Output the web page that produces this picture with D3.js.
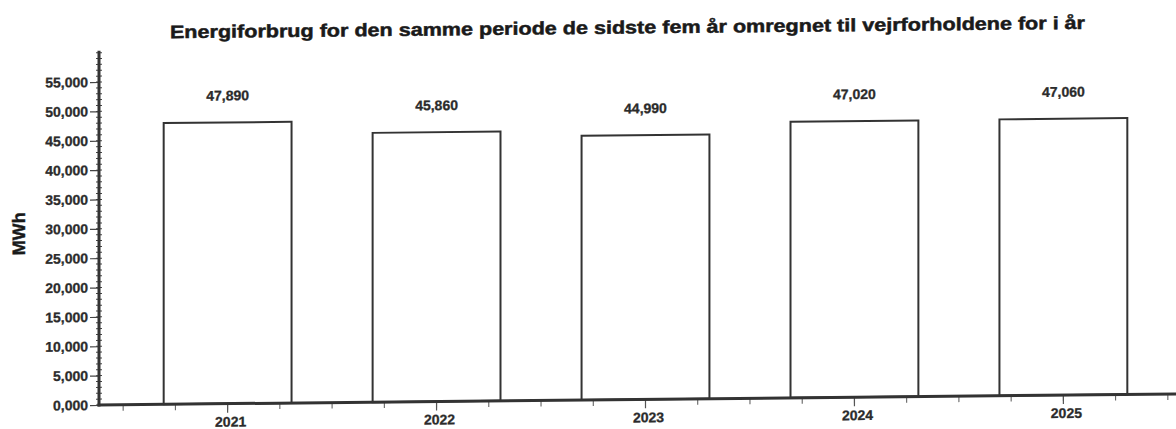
<!DOCTYPE html>
<html>
<head>
<meta charset="utf-8">
<script src="https://cdn.jsdelivr.net/npm/d3@7"></script>
<style>
  html, body { margin: 0; padding: 0; background: #fff; }
  svg { display: block; font-family: "Liberation Sans", Arial, sans-serif; }
</style>
</head>
<body>
<svg id="chart" width="1176" height="429"></svg>
<script>
// ---- data ----
const title = "Energiforbrug for den samme periode de sidste fem år omregnet til vejrforholdene for i år";
const yLabel = "MWh";
const years = ["2021", "2022", "2023", "2024", "2025"];
const values = [47890, 45860, 44990, 47020, 47060];
const valueLabels = ["47,890", "45,860", "44,990", "47,020", "47,060"];
const yTickValues = [0, 5000, 10000, 15000, 20000, 25000, 30000, 35000, 40000, 45000, 50000, 55000];
const yTickLabels = ["0,000", "5,000", "10,000", "15,000", "20,000", "25,000", "30,000", "35,000", "40,000", "45,000", "50,000", "55,000"];

// ---- layout ----
const svg = d3.select("#chart");
const g = svg.append("g").attr("transform", "skewY(-0.59)");

const axisX = 99, baseY = 406;
const y = d3.scaleLinear().domain([0, 60000]).range([baseY, baseY - 12 * 29.36]);
const x = d3.scaleBand().domain(years).range([101, 1190]).paddingInner(0.388).paddingOuter(0.3);
const step = x.step();

const ink = "#2b2b2b";

// title
g.append("text")
  .attr("x", 170).attr("y", 40)
  .attr("textLength", 915).attr("lengthAdjust", "spacingAndGlyphs")
  .attr("font-size", 18).attr("font-weight", "bold").attr("fill", "#1a1a1a")
  .attr("stroke", "#1a1a1a").attr("stroke-width", 0.5)
  .text(title);

// y label
g.append("text")
  .attr("transform", `translate(25,234) rotate(-90)`)
  .attr("text-anchor", "middle")
  .attr("font-size", 18).attr("font-weight", "bold").attr("fill", "#1a1a1a")
  .attr("stroke", "#1a1a1a").attr("stroke-width", 0.4)
  .text(yLabel);

// bars
g.selectAll("rect.bar").data(years).join("rect")
  .attr("class", "bar")
  .attr("x", d => x(d))
  .attr("y", (d, i) => y(values[i]))
  .attr("width", x.bandwidth())
  .attr("height", (d, i) => baseY - y(values[i]))
  .attr("fill", "#fff").attr("stroke", "#333").attr("stroke-width", 2);

// value labels
g.selectAll("text.val").data(years).join("text")
  .attr("class", "val")
  .attr("x", d => x(d) + x.bandwidth() / 2)
  .attr("y", (d, i) => y(values[i]) - 22)
  .attr("text-anchor", "middle")
  .attr("font-size", 14).attr("font-weight", "bold").attr("fill", ink)
  .attr("stroke", ink).attr("stroke-width", 0.3)
  .text((d, i) => valueLabels[i]);

// y axis minor ticks (every 1000)
const minorY = d3.range(0, 60001, 1000);
g.selectAll("line.ymin").data(minorY).join("line")
  .attr("x1", axisX - 3).attr("x2", axisX + 3)
  .attr("y1", d => y(d)).attr("y2", d => y(d))
  .attr("stroke", "#444").attr("stroke-width", 1);

// y axis major
const yAxis = d3.axisLeft(y).tickValues(yTickValues)
  .tickFormat((d, i) => yTickLabels[i]).tickSize(9).tickPadding(2);
const ya = g.append("g").attr("transform", `translate(${axisX},0)`).call(yAxis);
ya.select(".domain").remove();
ya.selectAll(".tick line").attr("stroke", "#444").attr("stroke-width", 1.2);
ya.selectAll(".tick text").attr("font-size", 14).attr("font-weight", "bold")
  .attr("fill", ink).attr("stroke", ink).attr("stroke-width", 0.3)
  .attr("font-family", "Liberation Sans, Arial, sans-serif");
g.append("line").attr("x1", axisX).attr("x2", axisX)
  .attr("y1", y(60000) - 2).attr("y2", baseY + 1.5)
  .attr("stroke", "#333").attr("stroke-width", 3);

// x axis minor ticks at quarter steps
const centers = years.map(d => x(d) + x.bandwidth() / 2);
const minorX = d3.range(-2, years.length * 4 - 1).map(k => centers[0] + k * step / 4)
  .filter(v => v > axisX + 5 && v < 1176);
g.selectAll("line.xmin").data(minorX).join("line")
  .attr("x1", d => d).attr("x2", d => d)
  .attr("y1", baseY).attr("y2", baseY + 6)
  .attr("stroke", "#555").attr("stroke-width", 1);

// x axis major
const xAxis = d3.axisBottom(x).tickSize(9).tickPadding(4);
const xa = g.append("g").attr("transform", `translate(0,${baseY})`).call(xAxis);
xa.select(".domain").remove();
xa.selectAll(".tick line").attr("stroke", "#555").attr("stroke-width", 1.2);
xa.selectAll(".tick text").attr("font-size", 14).attr("font-weight", "bold")
  .attr("fill", ink).attr("stroke", ink).attr("stroke-width", 0.3)
  .attr("font-family", "Liberation Sans, Arial, sans-serif")
  .attr("dx", 3);
g.append("line").attr("x1", axisX - 1.5).attr("x2", 1200)
  .attr("y1", baseY).attr("y2", baseY)
  .attr("stroke", "#333").attr("stroke-width", 3);
</script>
</body>
</html>
